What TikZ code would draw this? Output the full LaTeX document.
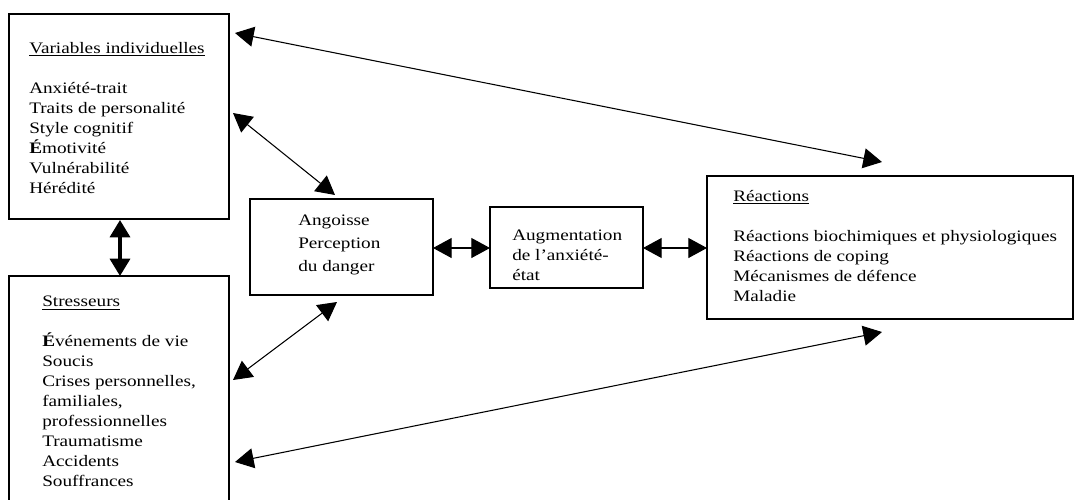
\documentclass[tikz,border=0pt]{standalone}
\usepackage{fontspec}
\setmainfont[FakeStretch=1.2]{Liberation Serif}
\usetikzlibrary{arrows.meta,fit}
\begin{document}
\begin{tikzpicture}[x=0.75pt,y=-0.75pt,
  box/.style={draw=black,line width=1pt,inner sep=0pt,rectangle},
  txt/.style={anchor=north west,inner sep=0pt,align=left,font=\fontsize{12}{15}\selectfont},
  link/.style={line width=0.8pt,{Triangle[length=14pt,width=15pt]}-{Triangle[length=14pt,width=15pt]}},
  thicklink/.style={line width=2.6pt,{Triangle[length=13pt,width=15pt]}-{Triangle[length=13pt,width=15pt]}}]
\path[use as bounding box,clip] (0,0) rectangle (1075,500);
\fill[white] (0,0) rectangle (1075,500);
% boxes
\node[box,fit={(9,14) (229,219)}] (vi) {};
\node[box,fit={(9,276) (229,520)}] (st) {};
\node[box,fit={(250,199) (433,295)}] (an) {};
\node[box,fit={(490,207) (643,288)}] (au) {};
\node[box,fit={(707,176) (1073,319)}] (re) {};
% texts
\node[txt] (vit) at (29,42) {\underline{Variables individuelles}\\[15pt]Anxiété-trait\\Traits de personalité\\Style cognitif\\\textbf{É}motivité\\Vulnérabilité\\Hérédité};
\node[txt] (stt) at (42,296) {\underline{Stresseurs}\\[15pt]\textbf{É}vénements de vie\\Soucis\\Crises personnelles,\\familiales,\\professionnelles\\Traumatisme\\Accidents\\Souffrances};
\node[txt,font=\fontsize{12}{17.25}\selectfont] (ant) at (298,215) {Angoisse\\Perception\\du danger};
\node[txt] (aut) at (512,230) {Augmentation\\de l’anxiété-\\état};
\node[txt] (ret) at (733,190) {\underline{Réactions}\\[15pt]Réactions biochimiques et physiologiques\\Réactions de coping\\Mécanismes de défence\\Maladie};
% connector ends
\coordinate (vi1) at (235,33);
\coordinate (re1) at (882,162);
\coordinate (vi2) at (233,113);
\coordinate (an1) at (335,195);
\coordinate (st1) at (233,380);
\coordinate (an2) at (337,302);
\coordinate (st2) at (235,462);
\coordinate (re2) at (882,332);
\coordinate (vi3) at (120,220);
\coordinate (st3) at (120,276);
\coordinate (an3) at (433,248);
\coordinate (au1) at (490,248);
\coordinate (au2) at (643,248);
\coordinate (re3) at (707,248);
% connectors
\draw[link] (vi1) -- (re1);
\draw[link] (vi2) -- (an1);
\draw[link] (st1) -- (an2);
\draw[link] (st2) -- (re2);
\draw[thicklink] (vi3) -- (st3);
\draw[link] (an3) -- (au1);
\draw[link] (au2) -- (re3);
\end{tikzpicture}
\end{document}
